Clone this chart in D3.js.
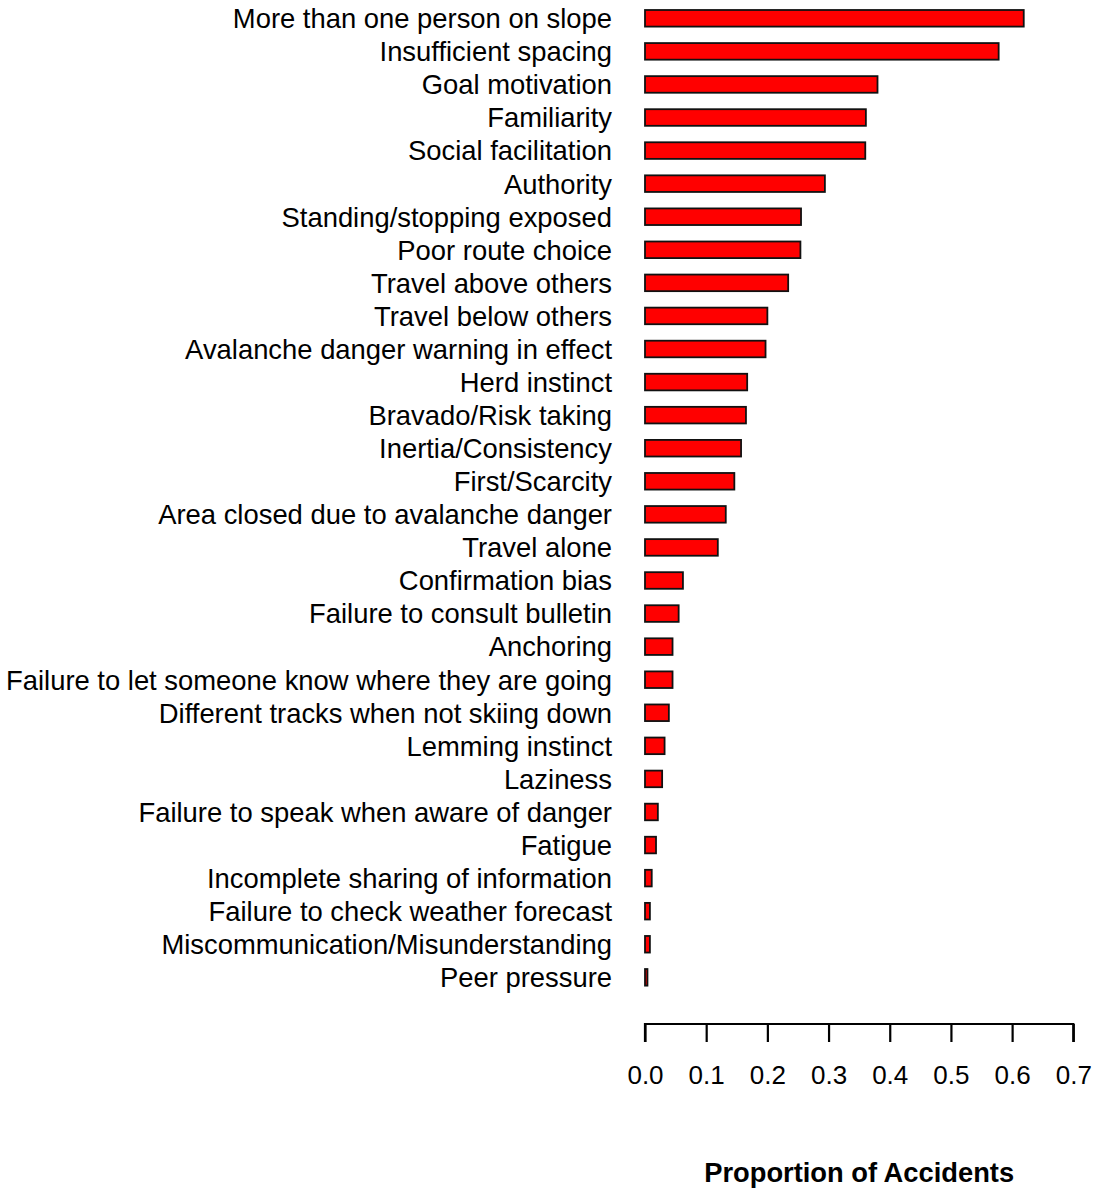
<!DOCTYPE html>
<html><head><meta charset="utf-8">
<script src="https://cdn.jsdelivr.net/npm/d3@7"></script>
<style>body{margin:0;background:#fff}</style>
</head><body>
<svg id="c" width="1096" height="1188"></svg>
<script>
const categories = ["More than one person on slope","Insufficient spacing","Goal motivation","Familiarity","Social facilitation","Authority","Standing/stopping exposed","Poor route choice","Travel above others","Travel below others","Avalanche danger warning in effect","Herd instinct","Bravado/Risk taking","Inertia/Consistency","First/Scarcity","Area closed due to avalanche danger","Travel alone","Confirmation bias","Failure to consult bulletin","Anchoring","Failure to let someone know where they are going","Different tracks when not skiing down","Lemming instinct","Laziness","Failure to speak when aware of danger","Fatigue","Incomplete sharing of information","Failure to check weather forecast","Miscommunication/Misunderstanding","Peer pressure"];
const values = [0.619,0.578,0.380,0.361,0.360,0.294,0.255,0.254,0.234,0.200,0.197,0.167,0.165,0.157,0.146,0.132,0.119,0.062,0.055,0.045,0.045,0.039,0.032,0.028,0.021,0.018,0.011,0.008,0.008,0.004];
const tickValues = [0,0.1,0.2,0.3,0.4,0.5,0.6,0.7];
const xTitle = "Proportion of Accidents";

const svg = d3.select("#c");
const font = "'Liberation Sans', Arial, Helvetica, sans-serif";
const x = d3.scaleLinear().domain([0,0.7]).range([645,1073.3]);
const step = 33.07;
const y = d3.scaleBand().domain(categories).range([18.3 - step/2, 18.3 - step/2 + step*categories.length]).paddingInner(0.5).paddingOuter(0.25);

const bh = 16.6;
svg.append("g").selectAll("rect").data(categories).join("rect")
  .attr("x", x(0))
  .attr("y", (d,i)=> y(d) + y.bandwidth()/2 - bh/2)
  .attr("width", (d,i)=> x(values[i]) - x(0))
  .attr("height", bh)
  .attr("fill", "#ff0000")
  .attr("stroke", "#111")
  .attr("stroke-width", 1.8);

svg.append("g").selectAll("text").data(categories).join("text")
  .attr("x", 612)
  .attr("y", d => y(d) + y.bandwidth()/2)
  .attr("dy", "0.36em")
  .attr("text-anchor", "end")
  .attr("font-family", font)
  .attr("font-size", 27.4)
  .attr("fill", "#000")
  .text(d => d);

const axis = d3.axisBottom(x).tickValues(tickValues).tickFormat(d3.format(".1f")).tickSize(18).tickPadding(24);
const ag = svg.append("g").attr("transform", "translate(0,1024)").call(axis);
ag.select(".domain").attr("d", `M${x(0)},18V0H${x(0.7)}V18`).attr("stroke", "#000").attr("stroke-width", 2.2);
ag.selectAll(".tick line").attr("stroke", "#000").attr("stroke-width", 2.2);
ag.selectAll(".tick text").attr("font-family", font).attr("font-size", 26).attr("fill", "#000");

svg.append("text")
  .attr("x", (x(0)+x(0.7))/2)
  .attr("y", 1182)
  .attr("text-anchor", "middle")
  .attr("font-family", font)
  .attr("font-weight", "bold")
  .attr("font-size", 27.3)
  .text(xTitle);
</script>
</body></html>
